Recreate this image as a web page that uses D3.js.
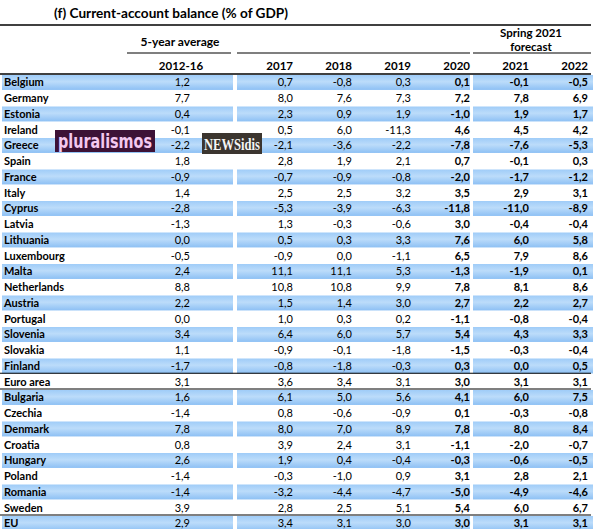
<!DOCTYPE html>
<html><head><meta charset="utf-8">
<script src="https://cdn.jsdelivr.net/npm/d3@7/dist/d3.min.js"></script>
<style>body{margin:0;background:#fff}svg{display:block}</style>
</head><body>
<script>
const title = "(f) Current-account balance (% of GDP)";
const countries = ["Belgium","Germany","Estonia","Ireland","Greece","Spain","France","Italy","Cyprus","Latvia","Lithuania","Luxembourg","Malta","Netherlands","Austria","Portugal","Slovenia","Slovakia","Finland","Euro area","Bulgaria","Czechia","Denmark","Croatia","Hungary","Poland","Romania","Sweden","EU"];
const avgLabel = "2012-16";
const years = ["2017","2018","2019","2020","2021","2022"];
const avg2012_16 = [1.2,7.7,0.4,-0.1,-2.2,1.8,-0.9,1.4,-2.8,-1.3,0.0,-0.5,2.4,8.8,2.2,0.0,3.4,1.1,-1.7,3.1,1.6,-1.4,7.8,0.8,2.6,-1.4,-1.4,3.9,2.9];
const v2017 = [0.7,8.0,2.3,0.5,-2.1,2.8,-0.7,2.5,-5.3,1.3,0.5,-0.9,11.1,10.8,1.5,1.0,6.4,-0.9,-0.8,3.6,6.1,0.8,8.0,3.9,1.9,-0.3,-3.2,2.8,3.4];
const v2018 = [-0.8,7.6,0.9,6.0,-3.6,1.9,-0.9,2.5,-3.9,-0.3,0.3,0.0,11.1,10.8,1.4,0.3,6.0,-0.1,-1.8,3.4,5.0,-0.6,7.0,2.4,0.4,-1.0,-4.4,2.5,3.1];
const v2019 = [0.3,7.3,1.9,-11.3,-2.2,2.1,-0.8,3.2,-6.3,-0.6,3.3,-1.1,5.3,9.9,3.0,0.2,5.7,-1.8,-0.3,3.1,5.6,-0.9,8.9,3.1,-0.4,0.9,-4.7,5.1,3.0];
const v2020 = [0.1,7.2,-1.0,4.6,-7.8,0.7,-2.0,3.5,-11.8,3.0,7.6,6.5,-1.3,7.8,2.7,-1.1,5.4,-1.5,0.3,3.0,4.1,0.1,7.8,-1.1,-0.3,3.1,-5.0,5.4,3.0];
const v2021 = [-0.1,7.8,1.9,4.5,-7.6,-0.1,-1.7,2.9,-11.0,-0.4,6.0,7.9,-1.9,8.1,2.2,-0.8,4.3,-0.3,0.0,3.1,6.0,-0.3,8.0,-2.0,-0.6,2.8,-4.9,6.0,3.1];
const v2022 = [-0.5,6.9,1.7,4.2,-5.3,0.3,-1.2,3.1,-8.9,-0.4,5.8,8.6,0.1,8.6,2.7,-0.4,3.3,-0.4,0.5,3.1,7.5,-0.8,8.4,-0.7,-0.5,2.1,-4.6,6.7,3.1];
const yearValues = [v2017,v2018,v2019,v2020,v2021,v2022];
const boldYears = ["2020","2021","2022"];
const groupHeader = "5-year average";
const forecastHeader = ["Spring 2021","forecast"];
const watermarks = ["pluralismos","NEWSidis"];

const W = 594, H = 529;
const font = "Lato, 'Open Sans', sans-serif";
const svg = d3.select("body").append("svg").attr("width", W).attr("height", H);

const loc = d3.formatLocale({decimal:",", thousands:".", grouping:[3], currency:["","€"], minus:"-"});
const fmt = loc.format(".1f");

const y = d3.scaleBand().domain(countries).range([74.5, 74.5 + 15.75*countries.length]).paddingInner(0);
const xYear = d3.scaleBand().domain(years).range([237, 591]);
const xAvg = d3.scaleBand().domain([avgLabel]).range([127, 233]);

// gradient
const defs = svg.append("defs");
const g = defs.append("linearGradient").attr("id","band").attr("x1",0).attr("y1",0).attr("x2",0).attr("y2",1);
g.append("stop").attr("offset","0%").attr("stop-color","#9fccf8");
g.append("stop").attr("offset","45%").attr("stop-color","#bcdcfa");
g.append("stop").attr("offset","100%").attr("stop-color","#8dc0f4");

const segments = [[2,233],[237,470],[473,593]];
countries.forEach((c,i)=>{
  if (i % 2 === 0) {
    segments.forEach(s=>{
      svg.append("rect").attr("x",s[0]).attr("width",s[1]-s[0])
        .attr("y", y(c)+0.5).attr("height", y.bandwidth()-0.8)
        .attr("fill","url(#band)");
    });
  }
});

// lines
const line = (x1,x2,yy,w)=>svg.append("line").attr("x1",x1).attr("x2",x2).attr("y1",yy).attr("y2",yy).attr("stroke","#000").attr("stroke-width",w||1.2);
line(0,591,25,1.5);
line(127,231,53,1.2); line(237,470,53,1.2); line(473,591,53,1.2);
line(0,591,74,1.5);
line(0,591,y("Euro area")-0.5,1.2);
line(0,591,y("Bulgaria")-0.5,1.2);
line(0,591,y("EU")-0.5,1.2);

// titles
svg.append("text").attr("x",54).attr("y",18).attr("font-family",font).attr("font-weight","bold")
  .attr("font-size",12.5).attr("textLength",234).attr("lengthAdjust","spacingAndGlyphs").text(title);
svg.append("text").attr("x",xAvg(avgLabel)+xAvg.bandwidth()/2+0).attr("y",46).attr("text-anchor","middle")
  .attr("font-family",font).attr("font-weight","bold").attr("font-size",12).text(groupHeader);
svg.append("text").attr("x",531).attr("y",37).attr("text-anchor","middle").attr("font-family",font).attr("font-weight","bold").attr("font-size",11.5).text(forecastHeader[0]);
svg.append("text").attr("x",531).attr("y",51).attr("text-anchor","middle").attr("font-family",font).attr("font-weight","bold").attr("font-size",11.5).text(forecastHeader[1]);

// column headers
svg.append("text").attr("x",181).attr("y",70).attr("text-anchor","middle").attr("font-family",font).attr("font-weight","bold").attr("font-size",11.5).text(avgLabel);
years.forEach(yr=>{
  svg.append("text").attr("x",xYear(yr)+xYear.bandwidth()-3).attr("y",70).attr("text-anchor","end")
    .attr("font-family",font).attr("font-weight","bold").attr("font-size",11.5).text(yr);
});

// rows
const rows = svg.append("g").attr("font-family",font).attr("font-size",11);
countries.forEach((c,i)=>{
  const cy = y(c)+y.bandwidth()/2;
  rows.append("text").attr("x",4).attr("y",cy).attr("dy","0.36em").attr("font-weight","bold").text(c);
  rows.append("text").attr("x",190).attr("y",cy).attr("dy","0.36em").attr("text-anchor","end").text(fmt(avg2012_16[i]));
  years.forEach((yr,j)=>{
    rows.append("text").attr("x",xYear(yr)+xYear.bandwidth()-3).attr("y",cy).attr("dy","0.36em")
      .attr("text-anchor","end").attr("font-weight", boldYears.includes(yr)?"bold":"normal")
      .text(fmt(yearValues[j][i]));
  });
});

// watermarks
svg.append("rect").attr("x",55).attr("y",130).attr("width",100).attr("height",22).attr("fill","#3d1236");
svg.append("text").attr("x",58).attr("y",148).attr("font-family","'Liberation Sans Narrow','DejaVu Sans Condensed',sans-serif")
  .attr("font-weight","bold").attr("font-size",20).attr("fill","#f4c8ef").attr("textLength",94).attr("lengthAdjust","spacingAndGlyphs").text(watermarks[0]);
svg.append("rect").attr("x",202).attr("y",133).attr("width",60).attr("height",21).attr("fill","#3b352f");
svg.append("text").attr("x",204).attr("y",150).attr("font-family","'Liberation Serif',serif")
  .attr("font-weight","bold").attr("font-size",17).attr("fill","#f5f5f5").attr("textLength",56).attr("lengthAdjust","spacingAndGlyphs").text(watermarks[1]);
</script>
</body></html>
